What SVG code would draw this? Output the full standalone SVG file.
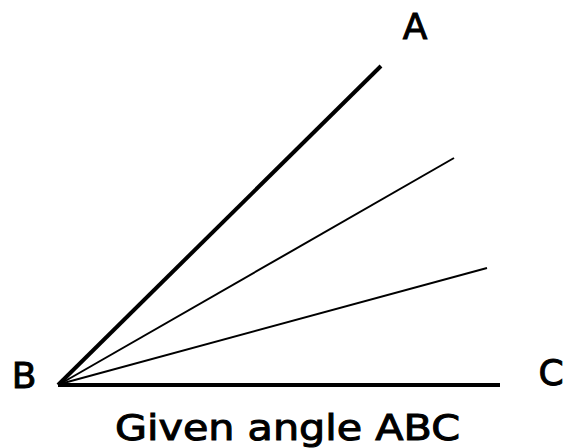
<svg xmlns="http://www.w3.org/2000/svg" width="564" height="448" viewBox="0 0 564 448">
<style>
.thick{stroke:#000;stroke-width:4;fill:none;stroke-linecap:butt}
.thin{stroke:#000;stroke-width:2;fill:none}
.lbl{font-family:"DejaVu Sans",sans-serif;font-size:36px;fill:#000;stroke:#000;stroke-width:1}
</style>
<rect width="564" height="448" fill="#fff"/>
<g id="connectors">
<line class="thick" x1="58" y1="385" x2="381" y2="66"/>
<line class="thin" x1="60" y1="384" x2="454" y2="158"/>
<line class="thin" x1="60" y1="384" x2="487" y2="268"/>
<line class="thick" x1="58" y1="385" x2="500" y2="385"/>
</g>
<g id="A"><text class="lbl" x="415" y="39" text-anchor="middle">A</text></g>
<g id="B"><text class="lbl" x="24" y="388" text-anchor="middle">B</text></g>
<g id="C"><text class="lbl" x="551" y="385" text-anchor="middle">C</text></g>
<g id="caption"><text class="lbl" x="115" y="440" textLength="345" lengthAdjust="spacingAndGlyphs">Given angle ABC</text></g>
</svg>
